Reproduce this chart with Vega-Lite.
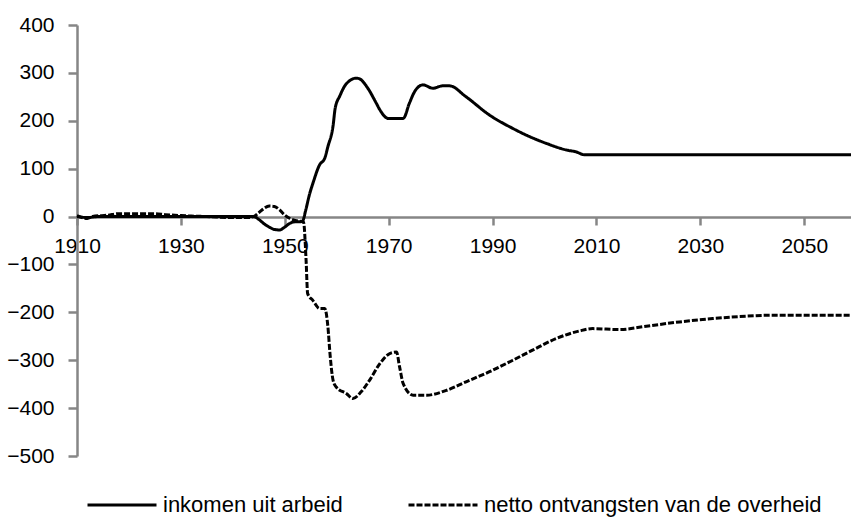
{
  "$schema": "https://vega.github.io/schema/vega-lite/v6.json",
  "autosize": {"type": "none"},
  "padding": {"left": 77, "top": 25, "right": 0, "bottom": 63},
  "width": 774,
  "height": 431,
  "background": "white",
  "datasets": {
    "inkomen": [
      {"year": 1910, "value": 0}, {"year": 1912, "value": -2}, {"year": 1914, "value": 0}, {"year": 1920, "value": 0},
      {"year": 1930, "value": 0}, {"year": 1940, "value": 0}, {"year": 1944, "value": 0}, {"year": 1945, "value": -6},
      {"year": 1946, "value": -15}, {"year": 1947, "value": -22}, {"year": 1948, "value": -27}, {"year": 1949, "value": -28},
      {"year": 1950, "value": -22}, {"year": 1951, "value": -14}, {"year": 1952, "value": -11}, {"year": 1953, "value": -11},
      {"year": 1953.5, "value": -8}, {"year": 1954, "value": 12}, {"year": 1954.8, "value": 48}, {"year": 1955.4, "value": 69},
      {"year": 1956.7, "value": 108}, {"year": 1957.7, "value": 122}, {"year": 1958.3, "value": 146}, {"year": 1959.3, "value": 190},
      {"year": 1959.7, "value": 226}, {"year": 1960.6, "value": 252}, {"year": 1961.9, "value": 278}, {"year": 1963.8, "value": 289},
      {"year": 1964.5, "value": 287}, {"year": 1965.8, "value": 271}, {"year": 1967.6, "value": 237}, {"year": 1968.3, "value": 223},
      {"year": 1969.9, "value": 205}, {"year": 1972.8, "value": 205}, {"year": 1974, "value": 237}, {"year": 1975, "value": 261},
      {"year": 1976.6, "value": 275}, {"year": 1978.5, "value": 268}, {"year": 1980.4, "value": 273}, {"year": 1981.7, "value": 273},
      {"year": 1984.9, "value": 250}, {"year": 1989.4, "value": 212}, {"year": 1993.9, "value": 184}, {"year": 1996.5, "value": 170},
      {"year": 2000.3, "value": 153}, {"year": 2004.2, "value": 139}, {"year": 2006.1, "value": 135}, {"year": 2007.7, "value": 129},
      {"year": 2059, "value": 129}
    ],
    "netto": [
      {"year": 1910, "value": 2}, {"year": 1912, "value": -4}, {"year": 1913, "value": 0}, {"year": 1916, "value": 3},
      {"year": 1918, "value": 6}, {"year": 1922, "value": 6}, {"year": 1925, "value": 6}, {"year": 1927, "value": 4},
      {"year": 1930, "value": 2}, {"year": 1932, "value": 1}, {"year": 1935, "value": 0}, {"year": 1940, "value": -2},
      {"year": 1943, "value": -2}, {"year": 1944, "value": 0}, {"year": 1945, "value": 8}, {"year": 1946, "value": 17},
      {"year": 1947, "value": 22}, {"year": 1948, "value": 21}, {"year": 1949, "value": 14}, {"year": 1950, "value": 3},
      {"year": 1951, "value": -4}, {"year": 1952, "value": -8}, {"year": 1953, "value": -10}, {"year": 1953.6, "value": -11},
      {"year": 1954.1, "value": -91}, {"year": 1954.4, "value": -161}, {"year": 1955.4, "value": -175}, {"year": 1956.7, "value": -192},
      {"year": 1957.7, "value": -192}, {"year": 1958.3, "value": -230}, {"year": 1958.7, "value": -286}, {"year": 1959.3, "value": -342},
      {"year": 1959.9, "value": -356}, {"year": 1961.9, "value": -370}, {"year": 1963.1, "value": -380}, {"year": 1964.7, "value": -366},
      {"year": 1966.3, "value": -342}, {"year": 1968.3, "value": -307}, {"year": 1970.2, "value": -286}, {"year": 1971.5, "value": -283},
      {"year": 1972.1, "value": -314}, {"year": 1972.8, "value": -349}, {"year": 1974.7, "value": -373}, {"year": 1977.3, "value": -373},
      {"year": 1981.1, "value": -363}, {"year": 1984.9, "value": -345}, {"year": 1989.4, "value": -324}, {"year": 1993.9, "value": -300},
      {"year": 1997.7, "value": -279}, {"year": 2002.2, "value": -255}, {"year": 2006.7, "value": -239}, {"year": 2009.3, "value": -234},
      {"year": 2014.4, "value": -236}, {"year": 2019.6, "value": -229}, {"year": 2026, "value": -220}, {"year": 2032.4, "value": -213},
      {"year": 2038.8, "value": -208}, {"year": 2043.9, "value": -206}, {"year": 2059, "value": -206}
    ]
  },
  "layer": [
    {
      "data": {"name": "inkomen"},
      "transform": [{"calculate": "'inkomen uit arbeid'", "as": "reeks"}],
      "mark": {"type": "line", "strokeWidth": 3, "interpolate": "monotone"},
      "encoding": {
        "x": {"field": "year", "type": "quantitative"},
        "y": {"field": "value", "type": "quantitative"},
        "color": {"field": "reeks", "type": "nominal"},
        "strokeDash": {"field": "reeks", "type": "nominal"}
      }
    },
    {
      "data": {"name": "netto"},
      "transform": [{"calculate": "'netto ontvangsten van de overheid'", "as": "reeks"}],
      "mark": {"type": "line", "strokeWidth": 3, "interpolate": "monotone"},
      "encoding": {
        "x": {"field": "year", "type": "quantitative"},
        "y": {"field": "value", "type": "quantitative"},
        "color": {"field": "reeks", "type": "nominal"},
        "strokeDash": {"field": "reeks", "type": "nominal"}
      }
    }
  ],
  "encoding": {
    "x": {
      "field": "year", "type": "quantitative",
      "scale": {"domain": [1910, 2059], "nice": false, "zero": false},
      "axis": {
        "title": null, "values": [1910, 1930, 1950, 1970, 1990, 2010, 2030, 2050],
        "format": "d", "offset": -239, "grid": false,
        "domainColor": "#868686", "domainWidth": 2.5, "tickColor": "#868686", "tickWidth": 2.5, "tickSize": 8,
        "labelFont": "Liberation Sans", "labelFontSize": 21, "labelColor": "black", "labelPadding": 10,
        "labelFlush": false, "labelOverlap": false
      }
    },
    "y": {
      "field": "value", "type": "quantitative",
      "scale": {"domain": [-500, 400], "nice": false, "zero": false},
      "axis": {
        "title": null, "values": [-500, -400, -300, -200, -100, 0, 100, 200, 300, 400],
        "grid": false,
        "domainColor": "#868686", "domainWidth": 2.5, "tickColor": "#868686", "tickWidth": 2.5, "tickSize": 9,
        "labelFont": "Liberation Sans", "labelFontSize": 21, "labelColor": "black", "labelPadding": 14,
        "labelFlush": false, "labelOverlap": false
      }
    },
    "color": {
      "field": "reeks", "type": "nominal",
      "scale": {"domain": ["inkomen uit arbeid", "netto ontvangsten van de overheid"], "range": ["black", "black"]},
      "legend": {"title": null}
    },
    "strokeDash": {
      "field": "reeks", "type": "nominal",
      "scale": {"domain": ["inkomen uit arbeid", "netto ontvangsten van de overheid"], "range": [[1, 0], [6, 2]]},
      "legend": {"title": null}
    }
  },
  "config": {
    "view": {"stroke": null},
    "legend": {
      "orient": "none", "legendX": 9, "legendY": 444, "direction": "horizontal",
      "symbolType": "stroke", "symbolSize": 4761, "symbolStrokeWidth": 3, "symbolStrokeColor": "black",
      "labelFont": "Liberation Sans", "labelFontSize": 22, "labelColor": "black", "labelOffset": 5,
      "columnPadding": 59, "labelLimit": 500
    }
  }
}
